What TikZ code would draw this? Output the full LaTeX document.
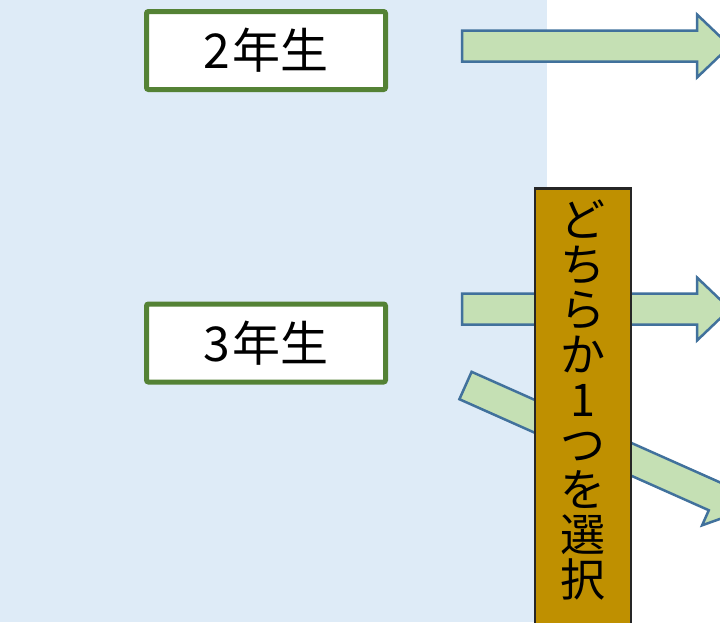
\documentclass[tikz,border=0pt]{standalone}
\usepackage{fontspec}
\setmainfont{Noto Sans CJK JP}
\usepackage{tikz}
\usetikzlibrary{backgrounds}
\definecolor{panelblue}{HTML}{DEEBF7}
\definecolor{gradegreen}{HTML}{548235}
\definecolor{arrowgreen}{HTML}{C5E0B4}
\definecolor{arrowblue}{HTML}{41719C}
\definecolor{choicegold}{HTML}{BF9000}
\definecolor{choicegray}{HTML}{262626}

\begin{document}
\begin{tikzpicture}[x=1pt,y=-1pt,
  gradebox/.style={draw=gradegreen,line width=5pt,fill=white,rounded corners=2pt,
    minimum width=239pt,minimum height=78pt,inner sep=0pt,font=\fontsize{48}{48}\selectfont},
  blockarrow/.style={draw=arrowblue,line width=2.5pt,fill=arrowgreen,line join=miter},
  choicebox/.style={draw=choicegray,line width=2.5pt,fill=choicegold,
    minimum width=96pt,minimum height=470pt,anchor=north},
  choicetext/.style={align=center,inner sep=0pt,font=\fontsize{45}{45}\selectfont}]
\useasboundingbox (0,0) rectangle (720,622);
\clip (0,0) rectangle (720,622);
\fill[panelblue] (0,0) rectangle (547,622);
\node[gradebox] (second) at (266,50.5) {2\kern2pt年生};
\node[gradebox] (third) at (266,343) {3\kern2pt年生};
\draw[blockarrow,shift={(462,46)}] (0,-15.5) -- (235,-15.5) -- (235,-31.5) -- (268,0)
  -- (235,31.5) -- (235,15.5) -- (0,15.5) -- cycle;
\draw[blockarrow,shift={(462,309)}] (0,-15.5) -- (235,-15.5) -- (235,-31.5) -- (268,0)
  -- (235,31.5) -- (235,15.5) -- (0,15.5) -- cycle;
\draw[blockarrow,shift={(465.5,385.5)},rotate=-24] (0,-15) -- (273,-15) -- (273,-31.5) -- (306,0)
  -- (273,31.5) -- (273,15) -- (0,15) -- cycle;
\node[choicebox] (choice) at (583,187) {};
\node[choicetext] (choicelabel) at (583,400) {ど\\ち\\ら\\か\\1\\つ\\を\\選\\択};
\end{tikzpicture}
\end{document}
